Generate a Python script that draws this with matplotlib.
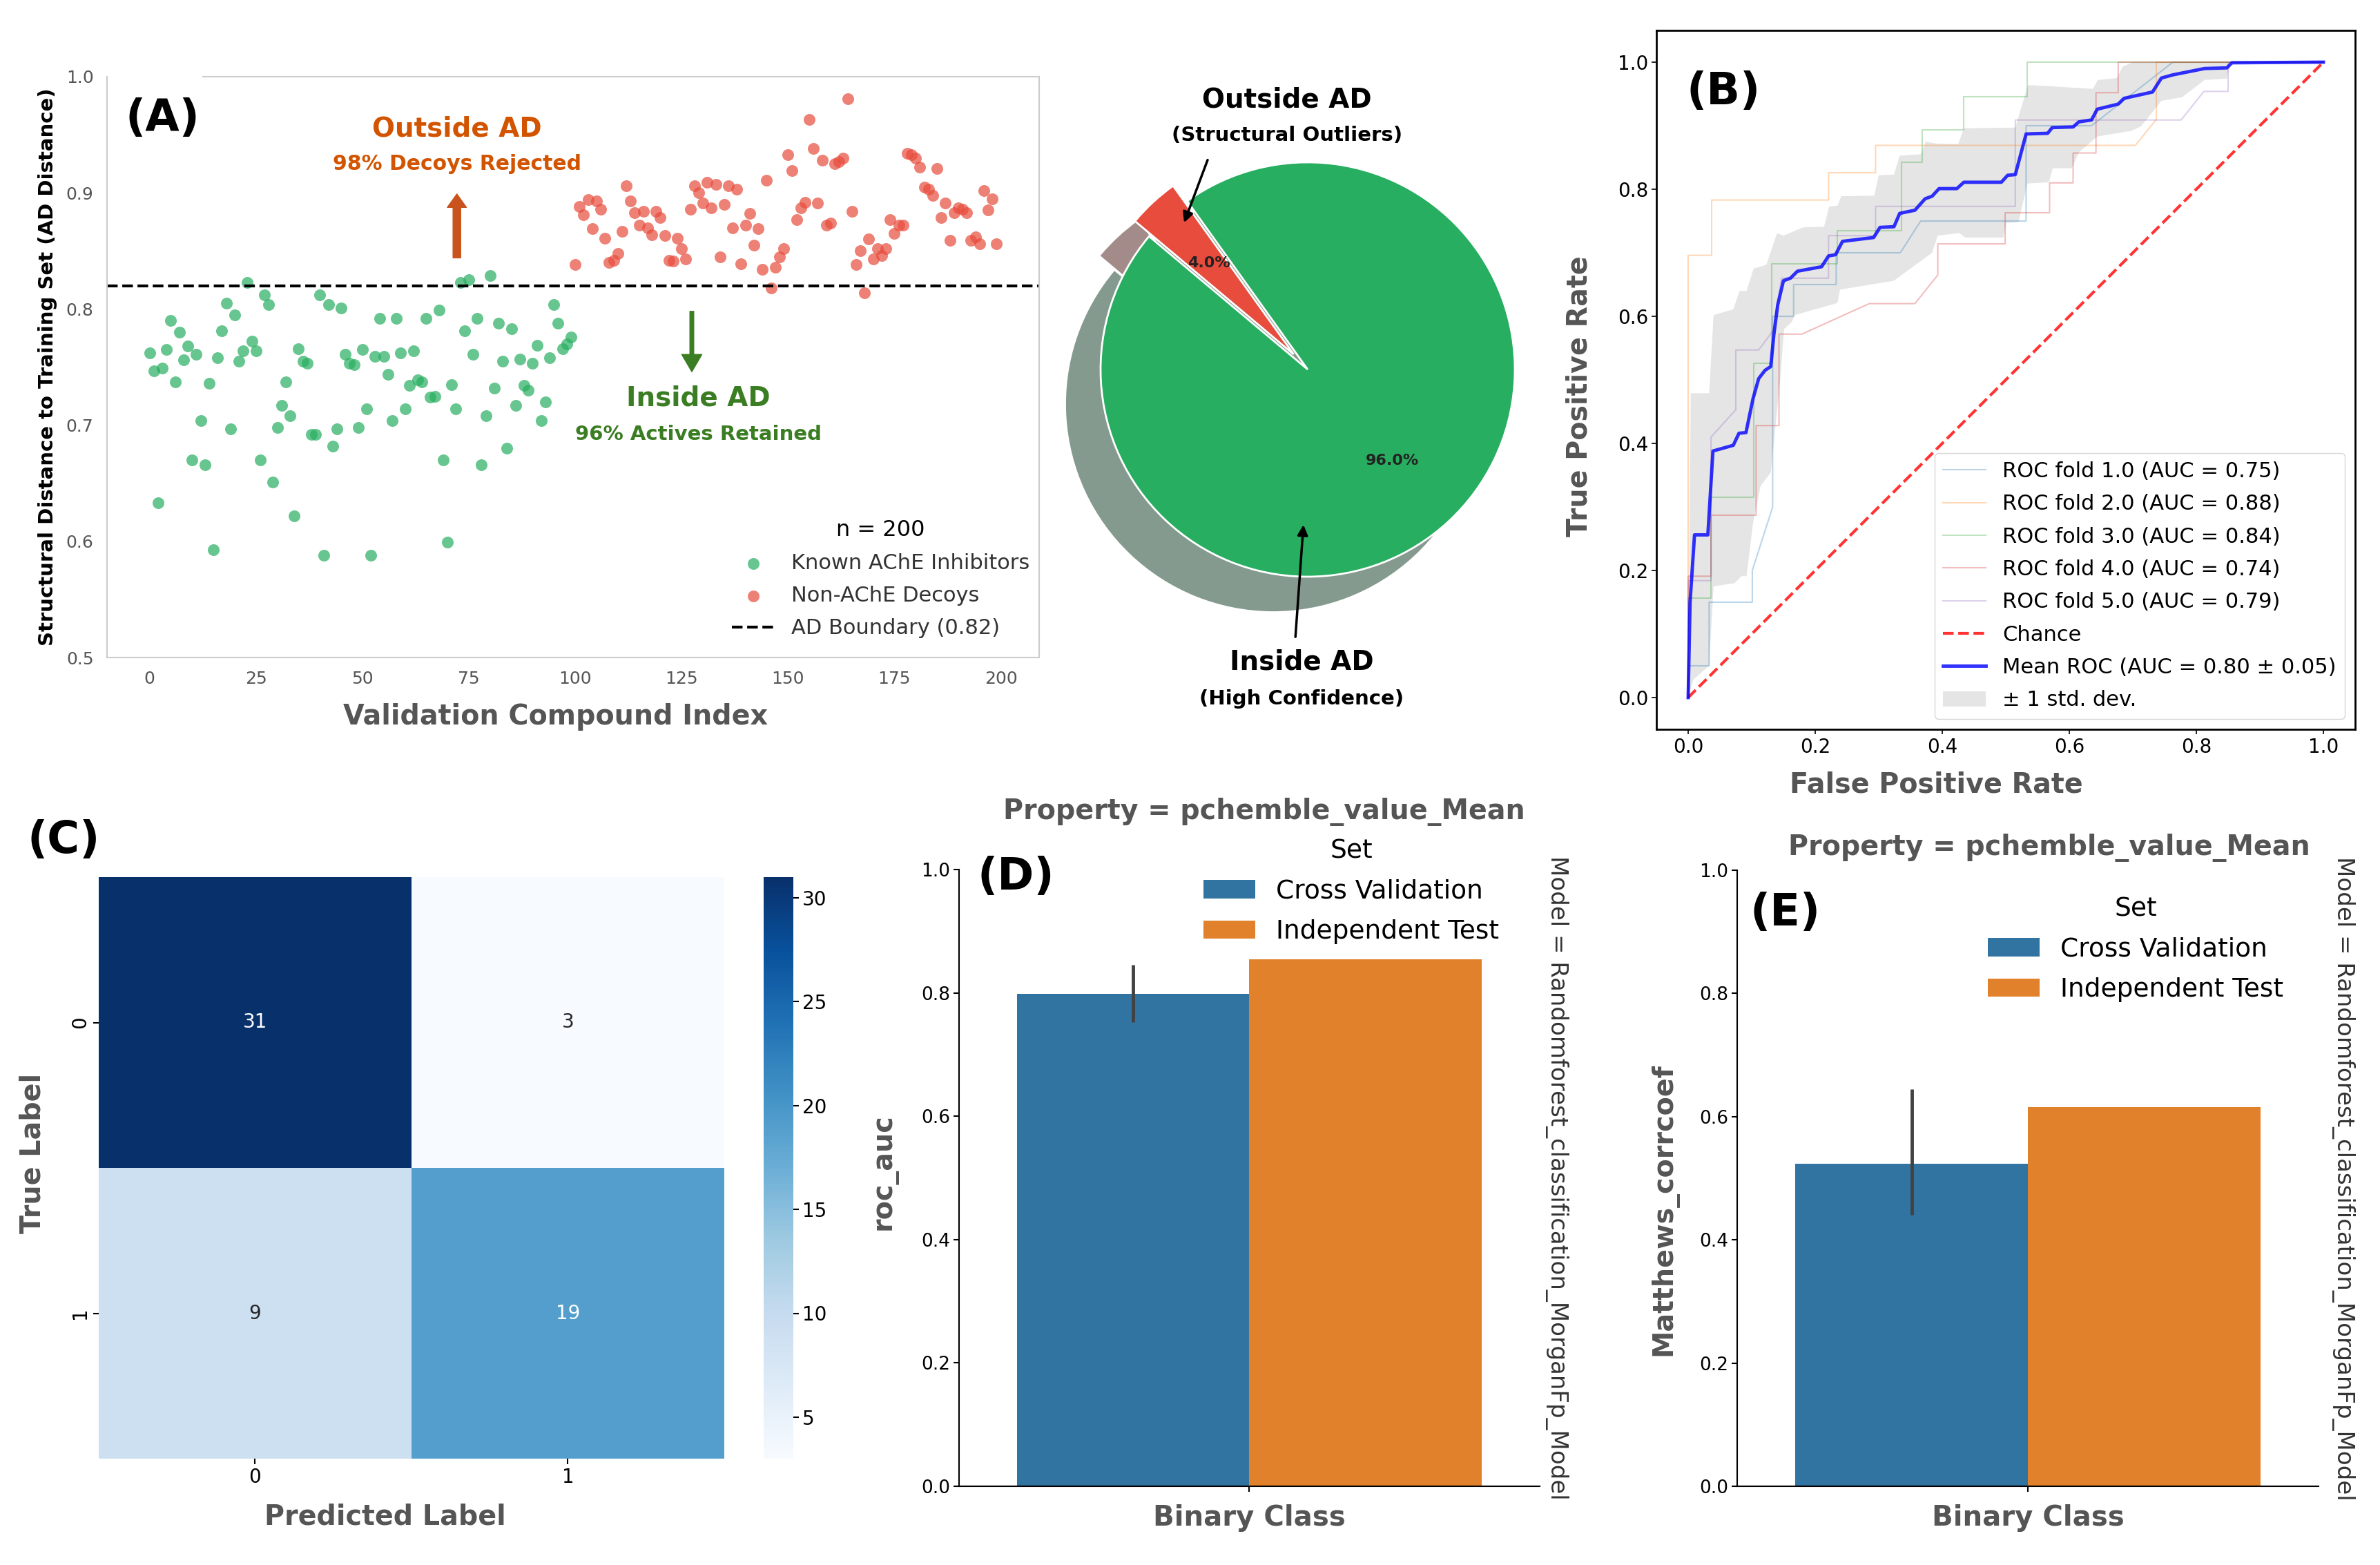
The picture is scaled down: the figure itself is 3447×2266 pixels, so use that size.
import numpy as np
import matplotlib
matplotlib.use("Agg")
import matplotlib.pyplot as plt
import matplotlib.colors as mcolors
import seaborn as sns

plt.rcParams['font.family'] = ['DejaVu Sans']

W, H = 3448, 2266
GREY = '#555555'

# ---------------- (A) applicability domain scatter ----------------
active_dist = [
    0.762, 0.747, 0.633, 0.749, 0.765, 0.790, 0.737, 0.780, 0.756, 0.768,
    0.670, 0.761, 0.704, 0.666, 0.736, 0.593, 0.758, 0.781, 0.805, 0.697,
    0.795, 0.755, 0.764, 0.823, 0.772, 0.764, 0.670, 0.812, 0.804, 0.651,
    0.698, 0.717, 0.737, 0.708, 0.622, 0.766, 0.755, 0.753, 0.692, 0.692,
    0.812, 0.588, 0.804, 0.682, 0.697, 0.801, 0.761, 0.753, 0.752, 0.698,
    0.765, 0.714, 0.588, 0.759, 0.792, 0.759, 0.744, 0.704, 0.792, 0.762,
    0.714, 0.734, 0.764, 0.739, 0.737, 0.792, 0.724, 0.725, 0.799, 0.670,
    0.599, 0.735, 0.714, 0.823, 0.781, 0.825, 0.761, 0.792, 0.666, 0.708,
    0.829, 0.732, 0.788, 0.755, 0.680, 0.783, 0.717, 0.757, 0.734, 0.730,
    0.753, 0.769, 0.704, 0.720, 0.758, 0.804, 0.788, 0.766, 0.770, 0.776,
]
decoy_dist = [
    0.838, 0.888, 0.881, 0.894, 0.869, 0.893, 0.886, 0.861, 0.840, 0.842,
    0.848, 0.867, 0.906, 0.893, 0.883, 0.872, 0.884, 0.870, 0.864, 0.884,
    0.879, 0.863, 0.842, 0.841, 0.861, 0.852, 0.843, 0.886, 0.906, 0.900,
    0.891, 0.909, 0.887, 0.907, 0.845, 0.890, 0.906, 0.870, 0.903, 0.839,
    0.872, 0.882, 0.855, 0.869, 0.834, 0.911, 0.818, 0.836, 0.845, 0.852,
    0.933, 0.919, 0.877, 0.887, 0.892, 0.963, 0.938, 0.891, 0.928, 0.872,
    0.874, 0.925, 0.927, 0.930, 0.981, 0.884, 0.838, 0.850, 0.814, 0.860,
    0.843, 0.852, 0.846, 0.852, 0.877, 0.865, 0.872, 0.872, 0.934, 0.933,
    0.930, 0.922, 0.905, 0.903, 0.898, 0.921, 0.879, 0.891, 0.859, 0.883,
    0.887, 0.886, 0.883, 0.859, 0.862, 0.856, 0.902, 0.885, 0.895, 0.856,
]
ad_boundary = 0.82
n_total = len(active_dist) + len(decoy_dist)

# ---------------- pie ----------------
pie_sizes = [96.0, 4.0]
pie_colors = ['#27ae60', '#e74c3c']

# ---------------- (B) ROC ----------------
fold_auc = [0.75, 0.88, 0.84, 0.74, 0.79]
fold_fpr = [
    [0, 0, 0.033, 0.033, 0.101, 0.101, 0.133, 0.133, 0.166, 0.166, 0.233, 0.233,
     0.334, 0.366, 0.532, 0.532, 0.635, 0.763, 1.0],
    [0, 0, 0.037, 0.037, 0.221, 0.221, 0.295, 0.295, 0.704, 0.737, 0.737, 1.0],
    [0, 0, 0.036, 0.036, 0.103, 0.103, 0.132, 0.132, 0.235, 0.235, 0.336, 0.336,
     0.369, 0.369, 0.434, 0.434, 0.534, 0.534, 1.0],
    [0, 0, 0.036, 0.036, 0.107, 0.107, 0.143, 0.143, 0.179, 0.285, 0.357, 0.393,
     0.393, 0.499, 0.499, 0.569, 0.569, 0.606, 0.606, 0.642, 0.642, 0.677, 0.677, 1.0],
    [0, 0, 0.036, 0.036, 0.075, 0.075, 0.111, 0.134, 0.147, 0.221, 0.221, 0.295,
     0.295, 0.515, 0.515, 0.776, 0.812, 0.850, 0.850, 1.0],
]
fold_tpr = [
    [0, 0.05, 0.05, 0.15, 0.15, 0.20, 0.30, 0.60, 0.60, 0.65, 0.65, 0.70,
     0.70, 0.75, 0.75, 0.90, 0.90, 1.0, 1.0],
    [0, 0.696, 0.696, 0.783, 0.783, 0.826, 0.826, 0.869, 0.869, 0.91, 1.0, 1.0],
    [0, 0.157, 0.157, 0.315, 0.315, 0.526, 0.526, 0.683, 0.683, 0.735, 0.735, 0.842,
     0.842, 0.893, 0.893, 0.946, 0.946, 1.0, 1.0],
    [0, 0.191, 0.191, 0.287, 0.287, 0.428, 0.428, 0.572, 0.572, 0.62, 0.62, 0.665,
     0.714, 0.714, 0.763, 0.763, 0.81, 0.81, 0.857, 0.857, 0.952, 0.952, 1.0, 1.0],
    [0, 0.184, 0.184, 0.41, 0.453, 0.547, 0.547, 0.578, 0.66, 0.66, 0.727, 0.727,
     0.773, 0.773, 0.909, 0.909, 0.954, 0.954, 1.0, 1.0],
]
mean_fpr = [0, 0.003, 0.01, 0.031, 0.039, 0.071, 0.080, 0.091, 0.102, 0.111, 0.121,
            0.130, 0.135, 0.141, 0.150, 0.161, 0.172, 0.210, 0.221, 0.232, 0.243,
            0.292, 0.302, 0.324, 0.333, 0.357, 0.373, 0.384, 0.395, 0.423, 0.434,
            0.493, 0.503, 0.515, 0.532, 0.566, 0.573, 0.606, 0.615, 0.635, 0.644,
            0.677, 0.686, 0.731, 0.745, 0.763, 0.778, 0.813, 0.848, 0.856, 1.0]
mean_tpr = [0, 0.15, 0.256, 0.256, 0.388, 0.397, 0.416, 0.417, 0.47, 0.502, 0.515,
            0.521, 0.572, 0.618, 0.656, 0.66, 0.671, 0.678, 0.695, 0.697, 0.718,
            0.724, 0.74, 0.741, 0.762, 0.767, 0.785, 0.789, 0.801, 0.801, 0.811,
            0.811, 0.822, 0.823, 0.887, 0.888, 0.897, 0.898, 0.906, 0.909, 0.926,
            0.934, 0.943, 0.953, 0.975, 0.980, 0.983, 0.990, 0.991, 0.999, 1.0]
band_up_fpr = [0, 0.004, 0.033, 0.040, 0.071, 0.081, 0.092, 0.103, 0.123, 0.140, 0.150,
               0.181, 0.214, 0.222, 0.235, 0.241, 0.293, 0.300, 0.324, 0.333, 0.366,
               0.374, 0.389, 0.425, 0.434, 0.515, 0.535, 0.572, 0.637, 0.645, 0.675,
               0.684, 0.70, 1.0]
band_up_tpr = [0, 0.479, 0.479, 0.602, 0.611, 0.640, 0.640, 0.675, 0.681, 0.731, 0.727,
               0.740, 0.741, 0.773, 0.774, 0.789, 0.790, 0.822, 0.823, 0.853, 0.855,
               0.875, 0.872, 0.871, 0.896, 0.897, 0.964, 0.962, 0.958, 0.972, 0.975,
               0.993, 1.0, 1.0]
band_lo_fpr = [0, 0.008, 0.033, 0.040, 0.073, 0.084, 0.092, 0.102, 0.114, 0.130, 0.145,
               0.151, 0.163, 0.168, 0.235, 0.239, 0.324, 0.347, 0.384, 0.393, 0.427,
               0.436, 0.496, 0.501, 0.520, 0.534, 0.568, 0.574, 0.604, 0.615, 0.644,
               0.698, 0.713, 0.745, 0.778, 0.813, 0.848, 0.854, 0.86, 1.0]
band_lo_tpr = [0, 0.028, 0.05, 0.175, 0.18, 0.191, 0.191, 0.274, 0.333, 0.354, 0.50,
               0.580, 0.591, 0.602, 0.621, 0.642, 0.656, 0.673, 0.700, 0.727, 0.731,
               0.724, 0.724, 0.747, 0.748, 0.809, 0.811, 0.833, 0.833, 0.858, 0.883,
               0.892, 0.899, 0.939, 0.945, 0.972, 0.974, 0.997, 1.0, 1.0]
mean_auc, std_auc = 0.80, 0.05

# ---------------- (C) confusion matrix ----------------
conf_mat = [[31, 3], [9, 19]]
class_labels = ['0', '1']

# ---------------- (D), (E) metrics ----------------
set_names = ['Cross Validation', 'Independent Test']
roc_auc_vals = [0.798, 0.854]
roc_auc_cv_ci = [0.752, 0.846]
mcc_vals = [0.524, 0.615]
mcc_cv_ci = [0.441, 0.645]
bar_colors = ['#3274a1', '#e1812c']
model_name = 'Model = Randomforest_classification_MorganFp_Model'
prop_name = 'Property = pchemble_value_Mean'

LABEL_FS = 28.5

fig = plt.figure(figsize=(W / 100, H / 100), dpi=100)


def px_axes(x0, y0, x1, y1):
    return fig.add_axes([x0 / W, 1 - y1 / H, (x1 - x0) / W, (y1 - y0) / H])


def ftext(x, y, s, **kw):
    return fig.text(x / W, 1 - y / H, s, **kw)


def label_coords(box, x, y):
    x0, y0, x1, y1 = box
    return (x - x0) / (x1 - x0), (y1 - y) / (y1 - y0)


def place_labels(ax, box, xlab_xy=None, ylab_xy=None):
    if xlab_xy is not None:
        ax.xaxis.label.set_va('center')
        ax.xaxis.set_label_coords(*label_coords(box, *xlab_xy))
    if ylab_xy is not None:
        ax.yaxis.label.set_va('center')
        ax.yaxis.set_label_coords(*label_coords(box, *ylab_xy))


# ===== Panel A =====
boxA = (155, 111, 1505, 952)
axA = px_axes(*boxA)
idx_act = np.arange(len(active_dist))
idx_dec = np.arange(len(active_dist), n_total)
axA.scatter(idx_act, active_dist, s=150, color='#27ae60', alpha=0.7, lw=0,
            label='Known AChE Inhibitors')
axA.scatter(idx_dec, decoy_dist, s=150, color='#e74c3c', alpha=0.7, lw=0,
            label='Non-AChE Decoys')
axA.axhline(ad_boundary, color='black', ls='--', lw=3,
            label=f'AD Boundary ({ad_boundary})')
axA.set_xlim(-10, 209)
axA.set_ylim(0.5, 1.0)
axA.set_xticks(np.arange(0, 201, 25))
axA.set_yticks([0.5, 0.6, 0.7, 0.8, 0.9, 1.0])
for sp in axA.spines.values():
    sp.set_color('#cccccc')
    sp.set_linewidth(1.5)
axA.spines['top'].set_bounds(12.5, 209)
axA.tick_params(length=0, labelsize=18, labelcolor=GREY, pad=14)
axA.set_xlabel('Validation Compound Index', fontsize=LABEL_FS, fontweight='bold',
               color=GREY)
axA.set_ylabel('Structural Distance to Training Set (AD Distance)', fontsize=21,
               fontweight='bold')
place_labels(axA, boxA, (805, 1038), (69, 531))

axA.text(72.2, 0.955, 'Outside AD', ha='center', va='center', fontsize=28,
         fontweight='bold', color='#d35400')
axA.text(72.2, 0.925, '98% Decoys Rejected', ha='center', va='center', fontsize=21.5,
         fontweight='bold', color='#d35400')
axA.annotate('', xy=(72.2, 0.899), xytext=(72.2, 0.844),
             arrowprops=dict(facecolor='#c9531c', edgecolor='#c9531c', width=8,
                             headwidth=20, headlength=14))
axA.text(128.9, 0.7235, 'Inside AD', ha='center', va='center', fontsize=28,
         fontweight='bold', color='#3b7d23')
axA.text(128.9, 0.692, '96% Actives Retained', ha='center', va='center', fontsize=21,
         fontweight='bold', color='#3b7d23')
axA.annotate('', xy=(127.4, 0.746), xytext=(127.4, 0.798),
             arrowprops=dict(facecolor='#3b7d23', edgecolor='#3b7d23', width=4,
                             headwidth=21, headlength=18))
legA = axA.legend(title=f'n = {n_total}', loc='lower right', frameon=False,
                  fontsize=22, title_fontsize=23, borderaxespad=0.5,
                  labelspacing=0.6, bbox_to_anchor=(1.01, 0.0))
for t in legA.get_texts():
    t.set_color('#333333')
ftext(182, 172, '(A)', ha='left', va='center', fontsize=46, fontweight='bold')

# ===== Pie =====
axP = px_axes(1369, 10, 2419, 1060)
explode = (0, 0.1)
shadow_colors = [tuple(0.15 * np.array(mcolors.to_rgb(c)) + 0.5) for c in pie_colors]
axP.pie(pie_sizes, colors=shadow_colors, explode=explode, startangle=140,
        center=(-0.167, -0.167), wedgeprops=dict(lw=0))
axP.pie(pie_sizes, colors=pie_colors, explode=explode, startangle=140,
        autopct='%1.1f%%', pctdistance=0.6,
        wedgeprops=dict(edgecolor='white', lw=2),
        textprops=dict(fontsize=16, fontweight='bold', color='#222222'))
axP.set_xlim(-1.75, 1.75)
axP.set_ylim(-1.75, 1.75)
axP.set_aspect('equal')
axP.axis('off')
axP.text(-0.10, 1.30, 'Outside AD', ha='center', va='center', fontsize=28,
         fontweight='bold')
axP.text(-0.10, 1.13, '(Structural Outliers)', ha='center', va='center', fontsize=21,
         fontweight='bold')
axP.annotate('', xy=(-0.60, 0.70), xytext=(-0.48, 1.02),
             arrowprops=dict(arrowstyle='-|>', color='black', lw=2.5, mutation_scale=22))
axP.text(-0.03, -1.41, 'Inside AD', ha='center', va='center', fontsize=28,
         fontweight='bold')
axP.text(-0.03, -1.59, '(High Confidence)', ha='center', va='center', fontsize=21,
         fontweight='bold')
axP.annotate('', xy=(-0.02, -0.74), xytext=(-0.06, -1.30),
             arrowprops=dict(arrowstyle='-|>', color='black', lw=2.5, mutation_scale=22))

# ===== Panel B =====
boxB = (2399, 44, 3411, 1056)
axB = px_axes(*boxB)
for i, auc in enumerate(fold_auc):
    axB.plot(fold_fpr[i], fold_tpr[i], lw=1.5, alpha=0.3, color=f'C{i}',
             label=f'ROC fold {i + 1:.1f} (AUC = {auc:.2f})')
axB.plot([0, 1], [0, 1], ls='--', lw=3, color='r', alpha=0.8, label='Chance')
axB.plot(mean_fpr, mean_tpr, color='b', lw=3.5, alpha=0.8,
         label=f'Mean ROC (AUC = {mean_auc:.2f} \u00b1 {std_auc:.2f})')
axB.fill(band_up_fpr + band_lo_fpr[::-1], band_up_tpr + band_lo_tpr[::-1],
         color='grey', alpha=0.2, lw=0, label='\u00b1 1 std. dev.')
axB.set_xlim(-0.05, 1.05)
axB.set_ylim(-0.05, 1.05)
for sp in axB.spines.values():
    sp.set_linewidth(2)
axB.tick_params(labelsize=20, length=5, width=1.2)
axB.set_xlabel('False Positive Rate', fontsize=LABEL_FS, fontweight='bold', color=GREY)
axB.set_ylabel('True Positive Rate', fontsize=LABEL_FS, fontweight='bold', color=GREY)
place_labels(axB, boxB, (2804, 1137), (2288, 574))
axB.legend(loc='lower right', fontsize=22, labelspacing=0.6)
ftext(2443, 133, '(B)', ha='left', va='center', fontsize=46, fontweight='bold')

# ===== Panel C =====
boxC = (143, 1270, 1049, 2112)
axC = px_axes(*boxC)
caxC = px_axes(1106, 1270, 1149, 2112)
sns.heatmap(np.array(conf_mat), annot=True, fmt='d', cmap='Blues', ax=axC,
            cbar_ax=caxC, annot_kws={'size': 20},
            xticklabels=class_labels, yticklabels=class_labels)
axC.tick_params(labelsize=20, length=6, width=1.5)
plt.setp(axC.get_yticklabels(), rotation=90, va='center')
caxC.tick_params(labelsize=20, length=6, width=1.5)
caxC.set_yticks([5, 10, 15, 20, 25, 30])
axC.set_xlabel('Predicted Label', fontsize=LABEL_FS, fontweight='bold', color=GREY)
axC.set_ylabel('True Label', fontsize=LABEL_FS, fontweight='bold', color=GREY)
place_labels(axC, boxC, (558, 2196), (48, 1670))
ftext(40, 1217, '(C)', ha='left', va='center', fontsize=46, fontweight='bold')


# ===== Panels D, E =====
def metric_panel(box, vals, cv_ci, ylabel, letter, letter_xy, title_xy, right_x,
                 ylabel_xy, leg_anchor):
    ax = px_axes(*box)
    xs = [-0.2, 0.2]
    for x, v, c, name in zip(xs, vals, bar_colors, set_names):
        ax.bar(x, v, width=0.4, color=c, label=name)
    ax.errorbar(xs[0], vals[0], yerr=[[vals[0] - cv_ci[0]], [cv_ci[1] - vals[0]]],
                color='#424242', lw=3.5, capsize=0)
    ax.set_xlim(-0.5, 0.5)
    ax.set_ylim(0, 1)
    ax.spines['top'].set_visible(False)
    ax.spines['right'].set_visible(False)
    ax.spines['left'].set_linewidth(1.5)
    ax.spines['bottom'].set_linewidth(1.5)
    ax.set_yticks([0.0, 0.2, 0.4, 0.6, 0.8, 1.0])
    ax.set_xticks([0])
    ax.set_xticklabels(['Binary Class'], fontsize=29, fontweight='bold', color=GREY)
    ax.tick_params(axis='y', labelsize=19, length=6, width=1.5)
    ax.tick_params(axis='x', length=6, width=1.5, pad=13)
    ax.set_ylabel(ylabel, fontsize=LABEL_FS, fontweight='bold', color=GREY)
    place_labels(ax, box, None, ylabel_xy)
    ax.legend(title='Set', frameon=False, fontsize=27, title_fontsize=27,
              loc='upper right', bbox_to_anchor=leg_anchor, labelspacing=0.6)
    ftext(*letter_xy, letter, ha='left', va='center', fontsize=46, fontweight='bold')
    ftext(*title_xy, prop_name, ha='center', va='center', fontsize=LABEL_FS,
          fontweight='bold', color=GREY)
    ftext(right_x, (box[1] + box[3]) / 2, model_name, ha='center', va='center',
          rotation=270, fontsize=24.5, color='#333333')
    return ax


metric_panel((1389, 1259, 2230, 2152), roc_auc_vals, roc_auc_cv_ci, 'roc_auc', '(D)',
             (1416, 1270), (1831, 1175), 2255, (1280, 1697), (0.97, 1.088))
metric_panel((2516, 1260, 3358, 2152), mcc_vals, mcc_cv_ci, 'Matthews_corrcoef', '(E)',
             (2534, 1322), (2968, 1228), 3394, (2410, 1751), (0.98, 0.995))

fig.savefig('out.png', dpi=100)
